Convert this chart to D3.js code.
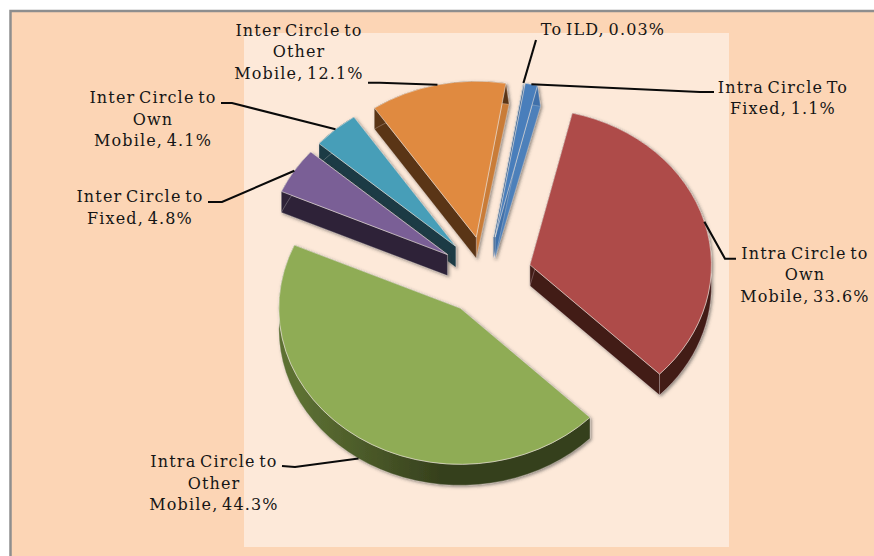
<!DOCTYPE html>
<html>
<head>
<meta charset="utf-8">
<script src="https://cdn.jsdelivr.net/npm/d3@7"></script>
<style>
html,body{margin:0;padding:0;background:#fff;overflow:hidden}
svg{display:block}
text{font-family:"DejaVu Serif",serif;font-size:16px;letter-spacing:1.15px;word-spacing:-2.5px;fill:#151515;text-anchor:middle}
</style>
</head>
<body>
<svg id="c" width="874" height="556"></svg>
<script>
// ---- data ----
const categoryLines = [
  ["Intra Circle to","Own","Mobile"],
  ["Intra Circle to","Other","Mobile"],
  ["Inter Circle to","Fixed"],
  ["Inter Circle to","Own","Mobile"],
  ["Inter Circle to","Other","Mobile"],
  ["To ILD"],
  ["Intra Circle To","Fixed"]
];
const shareValues = [33.6, 44.3, 4.8, 4.1, 12.1, 0.03, 1.1];

// ---- styles, one entry per slice ----
const topColors   = ["#ae4b48","#8fac55","#7a5f96","#469eb8","#e08a40","#2c5a90","#4a7ebb"];
const startWalls  = ["#431a18","#36401d","#2d2339","#1a3a45","#5a3416","#2c5a90","#3f70aa"];
const outerWalls  = ["#431a18","url(#greenWall)","#2d2339","#1a3a45","#5a3416","#3f70aa","#3f70aa"];
const endWalls    = ["#431a18","#36401d","#2d2339","#1a3a45","#c97b38","#3f70aa","#4d80ba"];

// ---- label placement: centre x, first baseline, elbow start, elbow end, wall offset flag ----
const labelX      = [805, 214, 140, 153, 299, 603, 783];
const labelY      = [258.7, 467, 202, 103, 35.5, 35, 92.7];
const elbowOuterX = [736, 282, 208, 221, 368, null, 714];
const elbowOuterY = [258.7, 466, 202, 103, 82.7, null, 92];
const elbowInnerX = [725, 295, 222, 232, 380, 536, 700];
const elbowInnerY = [258.7, 467, 202, 103, 82.7, 40, 92];
const leaderOnWall= [false, true, false, false, false, false, false];

// ---- geometry ----
const W = 874, H = 556;
const cx = 486, cy = 275.7, R = 181.5, tilt = 0.86, depth = 21, explode = 45.7, startDeg = 13.5;
const lineHeight = 21.7;
const rad = Math.PI / 180;

const svg = d3.select("#c");
const defs = svg.append("defs");
const gw = defs.append("linearGradient").attr("id","greenWall")
  .attr("gradientUnits","userSpaceOnUse").attr("x1",300).attr("x2",440).attr("y1",0).attr("y2",0);
gw.append("stop").attr("offset",0).attr("stop-color","#5d7033");
gw.append("stop").attr("offset",1).attr("stop-color","#36401d");
const fl = defs.append("filter").attr("id","sh").attr("x","-15%").attr("y","-15%").attr("width","130%").attr("height","130%");
fl.append("feDropShadow").attr("dx",1.5).attr("dy",1.5).attr("stdDeviation",1.6)
  .attr("flood-color","#3a3a3a").attr("flood-opacity",0.55);

// backgrounds
svg.append("rect").attr("width",W).attr("height",H).attr("fill","#ffffff");
svg.append("rect").attr("x",10.5).attr("y",11).attr("width",W).attr("height",H)
  .attr("fill","#fcd5b5").attr("stroke","#8e8e8e").attr("stroke-width",2.5);
svg.append("rect").attr("x",244).attr("y",33).attr("width",485).attr("height",514).attr("fill","#fde9d9");

const pie = d3.pie().sort(null).startAngle(startDeg*rad).endAngle((startDeg+360)*rad);
const arcs = pie(shareValues);
const arcGen = d3.arc().innerRadius(0).outerRadius(R);

function apex(d){
  const m = (d.startAngle+d.endAngle)/2;
  return [cx + explode*Math.sin(m), cy - explode*Math.cos(m)*tilt];
}
function rim(d,a){
  const [ax,ay] = apex(d);
  return [ax + R*Math.sin(a), ay - R*Math.cos(a)*tilt];
}
// the extrusion leans slightly right in the upper-right part of the pie
function drop(p){
  const lean = Math.max(0,(235-p[1])*0.02)*Math.max(0,Math.min(1,(p[0]-477)/20));
  return [p[0]+lean, p[1]+depth];
}
const poly = d3.line();

const order = [4,5,6,3,2,0,1];
const sl = svg.append("g").selectAll("g").data(order).join("g").attr("filter","url(#sh)");

sl.each(function(i){
  const d = arcs[i], g = d3.select(this), A = apex(d);
  const angles = d3.range(0,41).map(k => d.startAngle + (d.endAngle-d.startAngle)*k/40);
  const outer = angles.map(a => rim(d,a));
  const addPath = (dstr,fill) => g.append("path").attr("d",dstr).attr("fill",fill)
    .attr("stroke","#e8dfd6").attr("stroke-width",0.5).attr("stroke-opacity",0.6);
  const S = outer[0], E = outer[40];
  addPath(poly([A,drop(A),drop(E),E])+"Z", endWalls[i]);
  addPath(poly([A,drop(A),drop(S),S])+"Z", startWalls[i]);
  addPath(poly(outer.concat(outer.map(drop).reverse()))+"Z", outerWalls[i]);
  g.append("path").attr("d",arcGen(d))
    .attr("transform",`translate(${A[0]},${A[1]}) scale(1,${tilt})`)
    .attr("fill",topColors[i])
    .attr("stroke","#efe6de").attr("stroke-width",0.8).attr("stroke-opacity",0.75)
    .attr("vector-effect","non-scaling-stroke");
});

// leaders
const lg = svg.append("g");
arcs.forEach((d,i)=>{
  const m=(d.startAngle+d.endAngle)/2;
  const p=rim(d,m);
  const end=[p[0],p[1]+(leaderOnWall[i]?depth:0)];
  const pts=[];
  if(elbowOuterX[i]!==null) pts.push([elbowOuterX[i],elbowOuterY[i]]);
  pts.push([elbowInnerX[i],elbowInnerY[i]]);
  pts.push(end);
  lg.append("path").attr("d",poly(pts)).attr("fill","none").attr("stroke","#0a0a0a").attr("stroke-width",2.1);
});

// labels
const tg = svg.append("g");
categoryLines.forEach((lines,i)=>{
  const full = lines.slice();
  full[full.length-1] = full[full.length-1] + ", " + shareValues[i] + "%";
  full.forEach((s,j)=>{
    tg.append("text").attr("x",labelX[i]).attr("y",labelY[i]+j*lineHeight).text(s);
  });
});
</script>
</body>
</html>
